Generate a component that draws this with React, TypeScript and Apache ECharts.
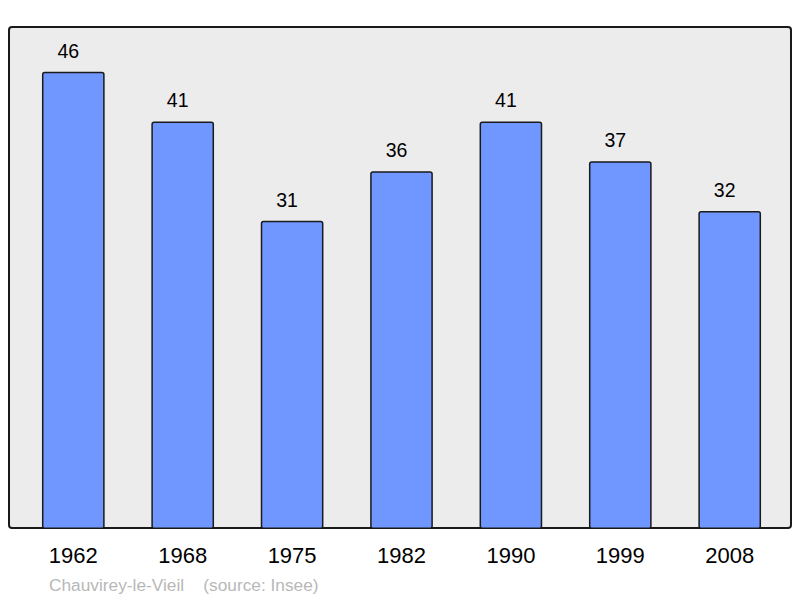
import React, { useEffect, useRef } from "react";
import * as echarts from "echarts";

const years = ["1962", "1968", "1975", "1982", "1990", "1999", "2008"];
const population = [46, 41, 31, 36, 41, 37, 32];
const sourceText = "Chauvirey-le-Vieil    (source: Insee)";

export default function App() {
  const ref = useRef<HTMLDivElement>(null);
  useEffect(() => {
    if (!ref.current) return;
    const chart = echarts.init(ref.current, null, { renderer: "svg" });
    chart.setOption({
      animation: false,
      backgroundColor: "#ffffff",
      graphic: [
        {
          type: "rect",
          shape: { x: 9, y: 27, width: 782, height: 501, r: 3 },
          style: { fill: "#ececec", stroke: "#1a1a1a", lineWidth: 2 },
          z: -10,
        },
        {
          type: "text",
          x: 49,
          y: 585,
          style: {
            text: sourceText,
            fill: "#b8b8b8",
            fontSize: 17.3,
            fontFamily: "Liberation Sans, Arial, sans-serif",
            verticalAlign: "middle",
          },
        },
      ],
      grid: { left: 18.6, width: 765.8, top: 32, height: 497, containLabel: false },
      xAxis: {
        type: "category",
        data: years,
        axisLine: { show: false },
        axisTick: { show: false },
        axisLabel: {
          color: "#000",
          fontSize: 22,
          fontFamily: "Liberation Sans, Arial, sans-serif",
          margin: 15,
        },
      },
      yAxis: {
        type: "value",
        min: 0,
        max: 50,
        show: false,
        splitLine: { show: false },
      },
      series: [
        {
          type: "bar",
          data: population,
          barWidth: "57.3%",
          itemStyle: {
            color: "#7097ff",
            borderColor: "#1a1a1a",
            borderWidth: 1.5,
            borderRadius: 2,
          },
          label: {
            show: true,
            position: "top",
            distance: 11,
            offset: [-5, 0],
            color: "#000",
            fontSize: 19.5,
            fontFamily: "Liberation Sans, Arial, sans-serif",
          },
          z: 2,
        },
      ],
    });
    return () => chart.dispose();
  }, []);
  return <div ref={ref} style={{ width: 800, height: 598, position: "absolute", left: 0, top: 0 }} />;
}
